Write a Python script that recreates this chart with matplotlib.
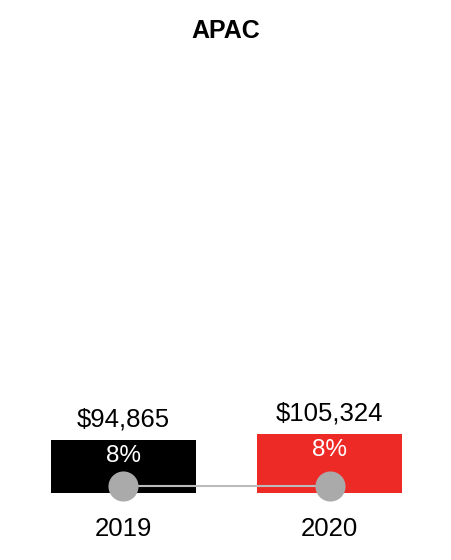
import matplotlib
matplotlib.use('Agg')
import matplotlib.pyplot as plt

plt.rcParams['font.family'] = ['Liberation Sans', 'DejaVu Sans']

region = 'APAC'
years = ['2019', '2020']
revenue = [94865, 105324]
share_pct = [8, 8]
bar_colors = ['#000000', '#EE2A27']

Y_MAX = 775000   # shared scale with the other region panels


def main():
    fig = plt.figure(figsize=(4.52, 5.6), dpi=100)
    ax = fig.add_axes([20 / 452, 67 / 560, 413 / 452, 433 / 560])
    x = list(range(len(years)))

    bars = ax.bar(x, revenue, width=0.7, color=bar_colors)
    ax.set_xlim(-0.5, len(years) - 0.5)
    ax.set_ylim(0, Y_MAX)

    for rect, val, pct in zip(bars, revenue, share_pct):
        cx = rect.get_x() + rect.get_width() / 2
        top = rect.get_height()
        ax.annotate(f'${val:,}', (cx, top), xytext=(0, 10), textcoords='offset points',
                    ha='center', va='baseline', fontsize=18.5, color='black')
        ax.annotate(f'{pct}%', (cx, top), xytext=(0, -16), textcoords='offset points',
                    ha='center', va='baseline', fontsize=17.5, color='white')

    # share line on its own axis, sits just above the baseline
    ax2 = ax.twinx()
    ax2.set_ylim(0, 8 * 433 / 7)
    ax2.plot(x, share_pct, color='#BBBBBB', linewidth=1.5, zorder=2, clip_on=False)
    ax2.scatter(x, share_pct, s=470, color='#AAAAAA', zorder=3, linewidths=0, clip_on=False)

    for a in (ax, ax2):
        for s in a.spines.values():
            s.set_visible(False)
        a.set_yticks([])
    ax2.set_xticks([])

    ax.set_xticks(x)
    ax.set_xticklabels(years, fontsize=18.5)
    ax.tick_params(axis='x', length=0, pad=17)

    fig.text(0.5, (560 - 38) / 560, region, ha='center', va='baseline',
             fontsize=18, fontweight='bold')

    fig.savefig('out.png', dpi=100, facecolor='white')


if __name__ == '__main__':
    main()
